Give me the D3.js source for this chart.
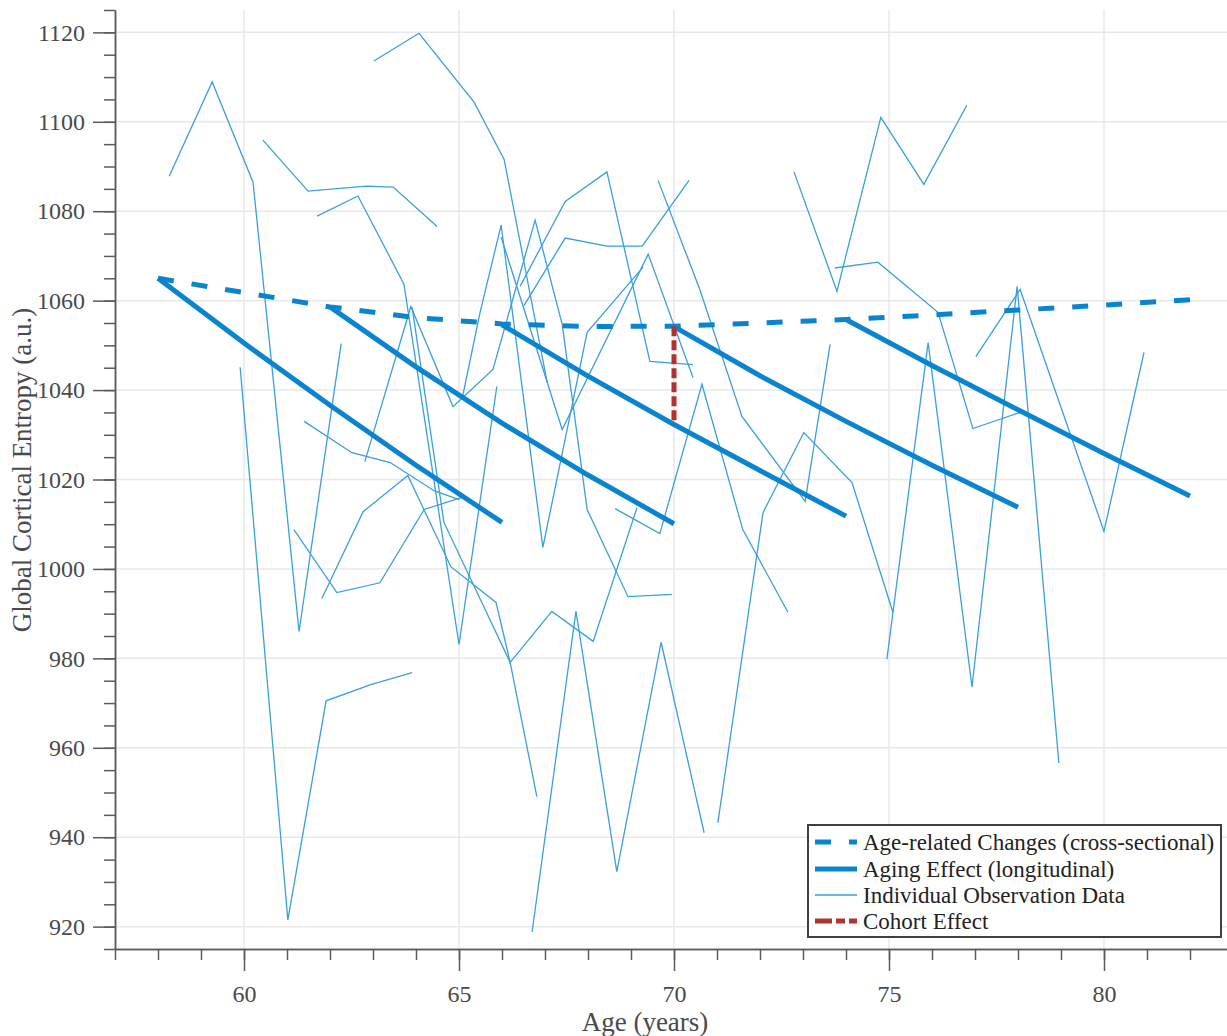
<!DOCTYPE html>
<html>
<head>
<meta charset="utf-8">
<script src="https://cdn.jsdelivr.net/npm/d3@7"></script>
<style>
  body { margin: 0; background: #fff; }
  svg { display: block; }
</style>
</head>
<body>
<div id="chart"></div>
<script>
// tick values
var xTicks = [60, 65, 70, 75, 80];
var xMinorTicks = [57,58,59,60,61,62,63,64,65,66,67,68,69,70,71,72,73,74,75,76,77,78,79,80,81,82,83];
var yTicks = [920, 940, 960, 980, 1000, 1020, 1040, 1060, 1080, 1100, 1120];
var yMinorTicks = [915,920,925,930,935,940,945,950,955,960,965,970,975,980,985,990,995,1000,1005,1010,
                   1015,1020,1025,1030,1035,1040,1045,1050,1055,1060,1065,1070,1075,1080,1085,1090,1095,
                   1100,1105,1110,1115,1120,1125];

// cross-sectional curve [age, entropy]
var crossSectional = [[58,1065.0],[60,1061.8],[62,1058.6],[64,1056.2],[66,1054.8],[68,1054.2],[70,1054.3],
                      [72,1055.0],[74,1055.8],[76,1056.8],[78,1057.9],[80,1059.0],[82,1060.2]];

// longitudinal aging lines, one per cohort
var agingEffect = [
  [[58,1065.0],[60,1050.5],[62,1036.6],[64,1023.2],[66,1010.4]],
  [[62,1058.6],[64,1045.2],[66,1032.6],[68,1021.0],[70,1010.1]],
  [[66,1054.6],[68,1043.1],[70,1032.3],[72,1022.0],[74,1011.8]],
  [[70,1054.2],[72,1043.2],[74,1033.0],[76,1023.2],[78,1013.8]],
  [[74,1055.8],[76,1045.5],[78,1035.6],[80,1025.8],[82,1016.3]]
];

// cohort effect segment
var cohortEffect = [[70,1054.3],[70,1032.3]];

// individual subjects [age, entropy]
var observations = [
  [[58.26,1087.8],[59.26,1108.9],[60.21,1086.5],[61.28,986.0],[62.26,1050.4]],
  [[59.91,1045.1],[61.02,921.5],[61.91,970.5],[62.95,974.1],[63.91,976.8]],
  [[63.02,1113.6],[64.07,1119.8],[65.35,1104.4],[66.05,1091.6],[67.05,1041.7]],
  [[60.44,1095.9],[61.49,1084.5],[62.84,1085.6],[63.47,1085.4],[64.49,1076.6]],
  [[61.70,1078.9],[62.65,1083.4],[63.72,1063.7],[65.00,983.1],[65.88,1040.8]],
  [[62.81,1024.0],[63.88,1058.7],[64.86,1036.3],[65.79,1044.6],[66.77,1078.0],[67.40,1054.7],[67.98,1013.3],[68.93,993.8],[69.95,994.3]],
  [[65.07,1037.9],[65.49,1057.4],[65.98,1076.9],[66.95,1004.8],[67.98,1052.9],[69.28,1067.5]],
  [[65.98,1074.2],[67.40,1031.2],[69.40,1070.4],[70.44,1042.8]],
  [[66.42,1063.2],[67.47,1082.2],[68.44,1088.8],[69.44,1046.4],[70.44,1045.7]],
  [[66.51,1058.9],[67.47,1074.0],[68.44,1072.2],[69.26,1072.2],[70.35,1086.9]],
  [[68.63,1013.5],[69.67,1007.9],[70.65,1041.3],[71.60,1008.8],[72.65,990.3]],
  [[69.63,1086.9],[70.60,1062.5],[71.58,1034.1],[73.05,1015.1],[73.63,1050.2]],
  [[71.02,943.2],[72.07,1012.6],[73.02,1030.5],[74.14,1019.3],[75.09,990.3]],
  [[74.95,979.8],[75.91,1050.6],[76.93,973.6],[77.98,1063.2],[78.95,956.6]],
  [[77.02,1047.5],[78.05,1062.5],[80.00,1008.4],[80.93,1048.4]],
  [[73.74,1067.3],[74.74,1068.6],[76.14,1057.4],[76.95,1031.4],[78.05,1035.0]],
  [[72.79,1088.8],[73.79,1062.1],[74.81,1101.0],[75.81,1086.0],[76.81,1103.7]],
  [[61.40,1033.0],[62.51,1026.0],[63.40,1023.8],[64.42,1017.5],[65.00,1015.5]],
  [[61.16,1008.8],[62.16,994.7],[63.16,996.9],[64.19,1013.3],[65.07,1016.0]],
  [[61.81,993.4],[62.77,1012.8],[63.81,1020.9],[64.81,1000.5],[65.86,992.5],[66.19,979.1],[67.16,990.5],[68.12,983.8],[69.14,1013.7]],
  [[66.70,918.8],[67.72,990.5],[68.67,932.3],[69.70,983.6],[70.70,941.0]],
  [[63.91,1058.5],[64.65,1010.4],[66.19,979.1],[66.81,949.1]]
];

var legendLabels = ["Age-related Changes (cross-sectional)", "Aging Effect (longitudinal)",
                    "Individual Observation Data", "Cohort Effect"];

var blue = "#0a84cf", thinBlue = "#3a9fdd", red = "#b0332d";
var axisColor = "#5b5b5b", textColor = "#4a4a4a";
var font = "'Liberation Serif', 'Times New Roman', serif";

var width = 1227, height = 1036;
var plot = {left: 115, top: 10, right: 1233, bottom: 949};

var svg = d3.select("#chart").append("svg")
    .attr("width", width)
    .attr("height", height);

var x = d3.scaleLinear().domain([57, 83]).range([plot.left, plot.right]);
var y = d3.scaleLinear().domain([915, 1125]).range([plot.bottom, plot.top]);

// grid
svg.append("g").selectAll("line.vgrid")
  .data(xTicks).enter().append("line")
    .attr("x1", d => x(d)).attr("x2", d => x(d))
    .attr("y1", plot.top).attr("y2", plot.bottom)
    .attr("stroke", "#e8e8e8").attr("stroke-width", 1.5);
svg.append("g").selectAll("line.hgrid")
  .data(yTicks).enter().append("line")
    .attr("x1", plot.left).attr("x2", plot.right)
    .attr("y1", d => y(d)).attr("y2", d => y(d))
    .attr("stroke", "#e8e8e8").attr("stroke-width", 1.5);

var line = d3.line()
    .x(function(d) { return x(d[0]); })
    .y(function(d) { return y(d[1]); });

// individual observations
svg.append("g").selectAll("path")
  .data(observations).enter().append("path")
    .attr("d", line)
    .attr("fill", "none")
    .attr("stroke", thinBlue)
    .attr("stroke-width", 1.3);

// aging lines
svg.append("g").selectAll("path")
  .data(agingEffect).enter().append("path")
    .attr("d", line)
    .attr("fill", "none")
    .attr("stroke", blue)
    .attr("stroke-width", 5);

// cross-sectional
svg.append("path")
    .attr("d", line(crossSectional))
    .attr("fill", "none")
    .attr("stroke", blue)
    .attr("stroke-width", 5)
    .attr("stroke-dasharray", "16,18");

// cohort effect
svg.append("path")
    .attr("d", line(cohortEffect))
    .attr("fill", "none")
    .attr("stroke", red)
    .attr("stroke-width", 5)
    .attr("stroke-dasharray", "10,4");

// axes
function styleAxis(g) {
  g.select(".domain").attr("stroke", axisColor).attr("stroke-width", 1.5);
  g.selectAll(".tick line").attr("stroke", axisColor).attr("stroke-width", 1.5);
  g.selectAll("text").attr("fill", textColor).style("font-family", font).style("font-size", "24px");
}

svg.append("g")
    .attr("transform", "translate(0," + plot.bottom + ")")
    .call(d3.axisBottom(x).tickValues(xMinorTicks).tickSize(11).tickFormat("").tickSizeOuter(0))
    .call(styleAxis);
svg.append("g")
    .attr("transform", "translate(0," + plot.bottom + ")")
    .call(d3.axisBottom(x).tickValues(xTicks).tickSize(22).tickPadding(14).tickSizeOuter(0)
      .tickFormat(d3.format("d")))
    .call(styleAxis);

svg.append("g")
    .attr("transform", "translate(" + plot.left + ",0)")
    .call(d3.axisLeft(y).tickValues(yMinorTicks).tickSize(11).tickFormat("").tickSizeOuter(0))
    .call(styleAxis);
svg.append("g")
    .attr("transform", "translate(" + plot.left + ",0)")
    .call(d3.axisLeft(y).tickValues(yTicks).tickSize(22).tickPadding(8).tickSizeOuter(0)
      .tickFormat(d3.format("d")))
    .call(styleAxis);

// axis titles
svg.append("text")
    .attr("x", 645).attr("y", 1031)
    .attr("text-anchor", "middle")
    .attr("fill", textColor)
    .style("font-family", font).style("font-size", "27px")
    .text("Age (years)");
svg.append("text")
    .attr("transform", "translate(31,470) rotate(-90)")
    .attr("text-anchor", "middle")
    .attr("fill", textColor)
    .style("font-family", font).style("font-size", "27px")
    .text("Global Cortical Entropy (a.u.)");

// legend
var legend = svg.append("g");
legend.append("rect")
    .attr("x", 808).attr("y", 825).attr("width", 413).attr("height", 112)
    .attr("fill", "#fff").attr("stroke", "#404040").attr("stroke-width", 2);

var rowY = [842, 869, 895, 921];
var legendStyles = [
  {color: blue, w: 5, dash: "16,18"},
  {color: blue, w: 5, dash: null},
  {color: thinBlue, w: 1.3, dash: null},
  {color: red, w: 5, dash: "17,4,9,4"}
];
legendLabels.forEach(function(lbl, i) {
  var s = legendStyles[i];
  legend.append("line")
      .attr("x1", 815).attr("x2", 857)
      .attr("y1", rowY[i]).attr("y2", rowY[i])
      .attr("stroke", s.color).attr("stroke-width", s.w)
      .attr("stroke-dasharray", s.dash);
  legend.append("text")
      .attr("x", 863).attr("y", rowY[i] + 8)
      .attr("fill", "#222")
      .style("font-family", font).style("font-size", "23px")
      .text(lbl);
});
</script>
</body>
</html>
